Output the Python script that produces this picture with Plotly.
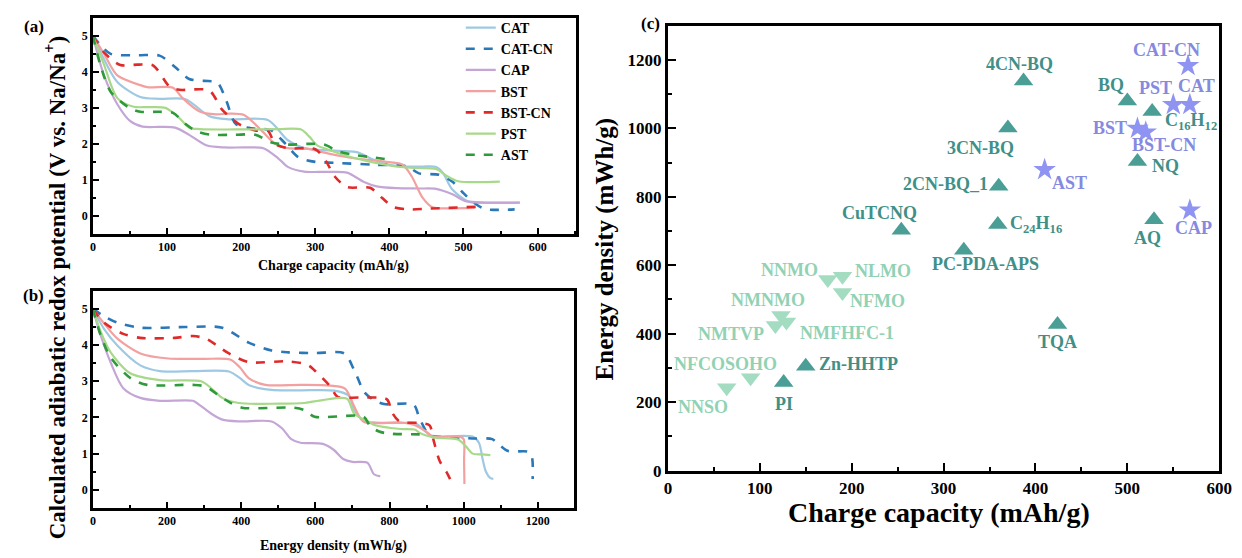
import plotly.graph_objects as go

W, H = 1242, 558
FONT = "Liberation Serif"

# ---------------- Panel (a): potential vs charge capacity ----------------
names = ["CAT", "CAT-CN", "CAP", "BST", "BST-CN", "PST", "AST"]
colors = ["#9ec9e2", "#2a78b8", "#c4a6d6", "#f2a0a0", "#e02a2a", "#a8d98a", "#2e9a3a"]
dashes = ["solid", "dash", "solid", "solid", "dash", "solid", "dash"]

a_CAT_x = [0, 15, 33, 64, 90, 125, 157, 183, 236, 263, 285, 340, 356, 380, 400, 423, 445, 463, 472, 485, 507, 540, 576]
a_CAT_y = [5, 4.35, 3.72, 3.3, 3.25, 3.24, 2.77, 2.68, 2.66, 2.1, 1.88, 1.8, 1.77, 1.55, 1.42, 1.37, 1.37, 1.36, 1.2, 0.73, 0.4, 0.36, 0.37]
a_CATCN_x = [0, 10, 24, 60, 90, 110, 130, 150, 168, 180, 193, 219, 240, 260, 277, 300, 330, 380, 423, 440, 467, 485, 499, 515, 529, 569]
a_CATCN_y = [5, 4.75, 4.5, 4.46, 4.45, 4.15, 3.8, 3.75, 3.7, 3.2, 2.55, 2.42, 2.38, 2.0, 1.63, 1.5, 1.47, 1.42, 1.38, 1.18, 1.14, 0.95, 0.65, 0.35, 0.19, 0.18]
a_CAP_x = [0, 15, 33, 50, 67, 90, 111, 130, 153, 177, 205, 230, 250, 263, 285, 316, 343, 365, 383, 410, 440, 463, 485, 503, 530, 576]
a_CAP_y = [5, 3.9, 3.1, 2.64, 2.48, 2.47, 2.45, 2.25, 1.96, 1.9, 1.9, 1.88, 1.6, 1.36, 1.23, 1.22, 1.2, 0.95, 0.82, 0.77, 0.76, 0.75, 0.6, 0.41, 0.37, 0.37]
a_BST_x = [0, 15, 33, 64, 75, 108, 121, 144, 166, 185, 204, 228, 246, 263, 290, 320, 352, 396, 418, 430, 445, 458, 470, 516]
a_BST_y = [5, 4.5, 3.9, 3.63, 3.57, 3.56, 3.27, 2.9, 2.82, 2.84, 2.8, 2.36, 2.0, 1.88, 1.86, 1.72, 1.6, 1.5, 1.42, 1.1, 0.5, 0.24, 0.21, 0.22]
a_BSTCN_x = [0, 15, 37, 60, 81, 104, 117, 157, 174, 197, 219, 236, 246, 263, 300, 315, 326, 343, 374, 390, 405, 425, 452, 525]
a_BSTCN_y = [5, 4.54, 4.19, 4.2, 4.18, 3.58, 3.5, 3.48, 2.96, 2.55, 2.37, 2.36, 2.0, 1.88, 1.85, 1.5, 1.1, 0.8, 0.78, 0.5, 0.25, 0.18, 0.2, 0.26]
a_PST_x = [0, 15, 33, 55, 75, 98, 115, 130, 144, 200, 250, 281, 292, 303, 316, 345, 380, 419, 440, 463, 478, 493, 549]
a_PST_y = [5, 4.2, 3.27, 3.03, 3.02, 3.0, 2.75, 2.45, 2.41, 2.4, 2.41, 2.4, 2.2, 1.95, 1.85, 1.65, 1.48, 1.35, 1.33, 1.3, 1.1, 0.96, 0.95]
a_AST_x = [0, 10, 24, 50, 64, 90, 108, 125, 139, 157, 190, 219, 241, 263, 290, 312, 330, 350, 380, 405]
a_AST_y = [5, 4.2, 3.45, 2.99, 2.89, 2.89, 2.86, 2.55, 2.36, 2.26, 2.25, 2.25, 2.04, 1.98, 2.0, 1.98, 1.8, 1.7, 1.62, 1.55]

# ---------------- Panel (b): potential vs energy density ----------------
b_CAT_x = [0, 30, 66, 128, 181, 270, 367, 395, 420, 482, 560, 651, 690, 705, 732, 766, 830, 870, 900, 915, 1024, 1041, 1052, 1060, 1072, 1080]
b_CAT_y = [5, 4.45, 3.99, 3.44, 3.28, 3.28, 3.27, 3.1, 2.9, 2.76, 2.75, 2.74, 2.6, 2.2, 1.89, 1.86, 1.85, 1.84, 1.58, 1.48, 1.47, 1.3, 0.8, 0.5, 0.32, 0.3]
b_CATCN_x = [0, 30, 66, 128, 250, 349, 420, 482, 527, 600, 678, 705, 732, 755, 785, 865, 880, 900, 910, 1024, 1077, 1094, 1120, 1174, 1184, 1186]
b_CATCN_y = [5, 4.8, 4.62, 4.48, 4.5, 4.48, 4.07, 3.85, 3.8, 3.78, 3.77, 3.3, 2.7, 2.5, 2.37, 2.35, 2.0, 1.6, 1.5, 1.42, 1.4, 1.26, 1.07, 1.05, 0.9, 0.3]
b_CAP_x = [0, 20, 48, 82, 128, 181, 270, 287, 320, 349, 393, 482, 510, 535, 560, 620, 650, 675, 700, 740, 758, 775]
b_CAP_y = [5, 4.3, 3.52, 2.81, 2.54, 2.46, 2.46, 2.35, 2.1, 1.94, 1.89, 1.89, 1.7, 1.4, 1.3, 1.27, 1.1, 0.85, 0.77, 0.75, 0.43, 0.37]
b_BST_x = [0, 30, 66, 128, 203, 300, 370, 395, 420, 465, 560, 640, 680, 705, 730, 830, 870, 900, 915, 990, 1000, 1001, 1002]
b_BST_y = [5, 4.6, 4.18, 3.77, 3.63, 3.62, 3.6, 3.4, 3.09, 2.9, 2.9, 2.88, 2.8, 2.3, 1.88, 1.86, 1.78, 1.6, 1.48, 1.47, 1.4, 0.8, 0.16]
b_BSTCN_x = [0, 30, 82, 128, 220, 270, 305, 340, 367, 420, 527, 580, 598, 641, 660, 720, 793, 806, 828, 880, 908, 918, 935, 953, 970]
b_BSTCN_y = [5, 4.62, 4.31, 4.2, 4.2, 4.25, 4.18, 3.95, 3.77, 3.53, 3.55, 3.45, 3.3, 2.85, 2.57, 2.55, 2.5, 2.15, 1.88, 1.85, 1.78, 1.4, 0.8, 0.5, 0.16]
b_PST_x = [0, 20, 48, 101, 181, 292, 320, 349, 393, 500, 571, 620, 685, 705, 748, 757, 830, 870, 880, 918, 985, 1006, 1024, 1050, 1072]
b_PST_y = [5, 4.4, 3.8, 3.22, 3.03, 3.0, 2.8, 2.54, 2.4, 2.38, 2.4, 2.48, 2.52, 2.1, 1.86, 1.8, 1.68, 1.66, 1.58, 1.45, 1.39, 1.2, 1.0, 0.98, 0.96]
b_AST_x = [0, 20, 48, 101, 146, 270, 305, 340, 367, 402, 540, 571, 598, 730, 748, 770, 793, 900]
b_AST_y = [5, 4.3, 3.66, 3.09, 2.9, 2.9, 2.85, 2.6, 2.43, 2.27, 2.27, 2.2, 2.02, 2.02, 1.75, 1.62, 1.56, 1.53]

a_x = [a_CAT_x, a_CATCN_x, a_CAP_x, a_BST_x, a_BSTCN_x, a_PST_x, a_AST_x]
a_y = [a_CAT_y, a_CATCN_y, a_CAP_y, a_BST_y, a_BSTCN_y, a_PST_y, a_AST_y]
b_x = [b_CAT_x, b_CATCN_x, b_CAP_x, b_BST_x, b_BSTCN_x, b_PST_x, b_AST_x]
b_y = [b_CAT_y, b_CATCN_y, b_CAP_y, b_BST_y, b_BSTCN_y, b_PST_y, b_AST_y]

# ---------------- Panel (c): energy density vs charge capacity ----------------
up_names = ["CuTCNQ", "4CN-BQ", "3CN-BQ", "2CN-BQ_1", "C<sub>24</sub>H<sub>16</sub>", "PC-PDA-APS",
            "BQ", "C<sub>16</sub>H<sub>12</sub>", "NQ", "AQ", "TQA", "Zn-HHTP", "PI"]
up_cap = [254, 387, 370, 360, 359, 322, 500, 527, 511, 529, 424, 150, 126]
up_energy = [702, 1138, 1001, 831, 719, 644, 1080, 1049, 903, 733, 427, 305, 257]

down_names = ["NNMO", "NLMO", "NFMO", "NMNMO", "NMTVP", "NMFHFC-1", "NFCOSOHO", "NNSO"]
down_cap = [174, 190, 190, 123, 117, 129, 90, 64]
down_energy = [558, 568, 520, 453, 424, 434, 271, 242]

star_names = ["CAT-CN", "CAT", "PST", "BST", "BST-CN", "AST", "CAP"]
star_cap = [566, 568, 550, 511, 520, 410, 568]
star_energy = [1183, 1069, 1069, 1000, 989, 879, 761]

# label offsets in pixels (style only)
up_dx = [-22, -4, -27, -53, 38, 22, -16, 39, 28, -7, 0, 53, 0]
up_dy = [17, 17, -20, 2, 0, -14, 16, -10, -4, -18, -18, 2, -21]
down_dx = [-38, 41, 35, -13, -44, 61, -25, -24]
down_dy = [10, 5, -8, 16, -9, -11, 14, -19]
star_dx = [-22, 7, -18, -27, 18, 25, 4]
star_dy = [16, 19, 17, 0, -13, -13, -18]

UP_C, UP_T = "#4a9e95", "#3f9088"
DN_C, DN_T = "#a4dcc2", "#92d2b4"
ST_C, ST_T = "#8f94f2", "#8589e0"

fig = go.Figure()

for i, n in enumerate(names):
    w = 2.6 if dashes[i] == "dash" else 2.2
    fig.add_trace(go.Scatter(x=a_x[i], y=a_y[i], mode="lines", name=n,
                             line=dict(color=colors[i], width=w, dash=dashes[i], shape="spline", smoothing=0.8),
                             xaxis="x", yaxis="y"))
for i, n in enumerate(names):
    w = 2.6 if dashes[i] == "dash" else 2.2
    fig.add_trace(go.Scatter(x=b_x[i], y=b_y[i], mode="lines", name=n, showlegend=False,
                             line=dict(color=colors[i], width=w, dash=dashes[i], shape="spline", smoothing=0.8),
                             xaxis="x2", yaxis="y2"))

fig.add_trace(go.Scatter(x=up_cap, y=up_energy, mode="markers", showlegend=False,
                         marker=dict(symbol="triangle-up", size=17, color=UP_C), xaxis="x3", yaxis="y3"))
fig.add_trace(go.Scatter(x=down_cap, y=down_energy, mode="markers", showlegend=False,
                         marker=dict(symbol="triangle-down", size=17, color=DN_C), xaxis="x3", yaxis="y3"))
fig.add_trace(go.Scatter(x=star_cap, y=star_energy, mode="markers", showlegend=False,
                         marker=dict(symbol="star", size=17, color=ST_C), xaxis="x3", yaxis="y3"))

ann = []
lab_font = 18
for n, x, y, dx, dy in zip(up_names, up_cap, up_energy, up_dx, up_dy):
    ann.append(dict(x=x, y=y, xref="x3", yref="y3", text=n, showarrow=False, xshift=dx, yshift=dy,
                    font=dict(family=FONT, size=lab_font, color=UP_T, weight="bold")))
for n, x, y, dx, dy in zip(down_names, down_cap, down_energy, down_dx, down_dy):
    ann.append(dict(x=x, y=y, xref="x3", yref="y3", text=n, showarrow=False, xshift=dx, yshift=dy,
                    font=dict(family=FONT, size=lab_font, color=DN_T, weight="bold")))
for n, x, y, dx, dy in zip(star_names, star_cap, star_energy, star_dx, star_dy):
    ann.append(dict(x=x, y=y, xref="x3", yref="y3", text=n, showarrow=False, xshift=dx, yshift=dy,
                    font=dict(family=FONT, size=lab_font, color=ST_T, weight="bold")))


def px(x):
    return x / W


def py(y):
    return 1 - y / H


def txt(x, y, s, size, angle=0):
    return dict(x=px(x), y=py(y), xref="paper", yref="paper", text=s, showarrow=False,
                textangle=angle, xanchor="center", yanchor="middle",
                font=dict(family=FONT, size=size, color="black", weight="bold"))


ann += [
    txt(22, 19, "(a)", 17), txt(22, 293, "(b)", 17), txt(647, 16, "(c)", 17),
    txt(326, 263, "Charge capacity (mAh/g)", 14),
    txt(326, 548, "Energy density (mWh/g)", 14),
    txt(45, 285, "Calculated adiabatic redox potential (V vs. Na/Na<sup>+</sup>)", 23, -90),
    txt(940, 514, "Charge capacity (mAh/g)", 28),
    txt(601, 245, "Energy density (mWh/g)", 25, -90),
]


def ax(domain, rng, dtick, minor_dtick, tsize, lw, tlen, anchor, tickvals=None):
    d = dict(domain=domain, range=rng, showgrid=False, zeroline=False, showline=True, mirror=True,
             linecolor="black", linewidth=lw, ticks="inside", ticklen=tlen, tickwidth=lw * 0.8,
             tickcolor="black", dtick=dtick, anchor=anchor,
             tickfont=dict(family=FONT, size=tsize, color="black", weight="bold"),
             minor=dict(ticks="inside", ticklen=tlen * 0.5, tickwidth=lw * 0.7, dtick=minor_dtick,
                        tickcolor="black", showgrid=False))
    if tickvals is not None:
        d["tickmode"] = "array"
        d["tickvals"] = tickvals
        d.pop("dtick")
    return d


fig.update_layout(
    width=W, height=H, margin=dict(l=0, r=0, t=0, b=0),
    paper_bgcolor="white", plot_bgcolor="white", showlegend=True,
    xaxis=ax([px(82), px(572)], [0, 652], 100, 50, 12, 2.5, 6, "y"),
    yaxis=ax([py(230), py(10)], [-0.5, 5.5], 1, 0.5, 12, 2.5, 6, "x", tickvals=[0, 1, 2, 3, 4, 5]),
    xaxis2=ax([px(82), px(570)], [0, 1298], 200, 100, 12, 2.5, 6, "y2"),
    yaxis2=ax([py(509), py(288)], [-0.5, 5.5], 1, 0.5, 12, 2.5, 6, "x2", tickvals=[0, 1, 2, 3, 4, 5]),
    xaxis3=ax([px(665), px(1224)], [0, 600], 100, 50, 17, 3, 8, "y3"),
    yaxis3=ax([py(471), py(18)], [0, 1300], 200, 100, 17, 3, 8, "x3"),
    legend=dict(x=px(455), y=py(4), xanchor="left", yanchor="top", bgcolor="rgba(0,0,0,0)",
                font=dict(family=FONT, size=14, color="black", weight="bold"),
                tracegroupgap=0, itemwidth=30),
    annotations=ann,
)

fig.write_html("out.html")
